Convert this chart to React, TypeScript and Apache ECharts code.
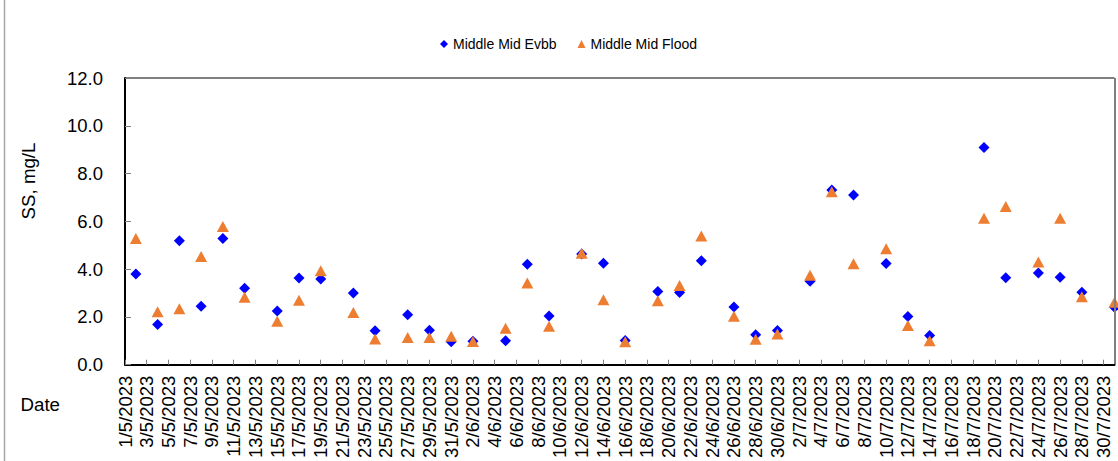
import React, { useEffect, useRef } from "react";
import * as echarts from "echarts";

// Axis categories: every day from 1/5/2023 to 31/7/2023
const monthDays: [number, number][] = [[5, 31], [6, 30], [7, 31]];
const dateCategories: string[] = [];
for (const [m, n] of monthDays) {
  for (let d = 1; d <= n; d++) dateCategories.push(`${d}/${m}/2023`);
}

const sampleDates = [
  "2/5/2023", "4/5/2023", "6/5/2023", "8/5/2023", "10/5/2023", "12/5/2023",
  "15/5/2023", "17/5/2023", "19/5/2023", "22/5/2023", "24/5/2023", "27/5/2023",
  "29/5/2023", "31/5/2023", "2/6/2023", "5/6/2023", "7/6/2023", "9/6/2023",
  "12/6/2023", "14/6/2023", "16/6/2023", "19/6/2023", "21/6/2023", "23/6/2023",
  "26/6/2023", "28/6/2023", "30/6/2023", "3/7/2023", "5/7/2023", "7/7/2023",
  "10/7/2023", "12/7/2023", "14/7/2023", "19/7/2023", "21/7/2023", "24/7/2023",
  "26/7/2023", "28/7/2023", "31/7/2023",
];

const ebbValues = [
  3.8, 1.68, 5.19, 2.45, 5.28, 3.2,
  2.25, 3.63, 3.59, 3.0, 1.42, 2.09,
  1.44, 0.96, 0.98, 1.0, 4.2, 2.04,
  4.63, 4.25, 1.01, 3.06, 3.02, 4.35,
  2.42, 1.25, 1.43, 3.49, 7.31, 7.1,
  4.24, 2.02, 1.22, 9.09, 3.64, 3.84,
  3.66, 3.03, 2.4,
];

const floodValues = [
  5.28, 2.22, 2.34, 4.53, 5.78, 2.82,
  1.82, 2.7, 3.93, 2.18, 1.08, 1.14,
  1.14, 1.19, 0.97, 1.53, 3.42, 1.61,
  4.67, 2.72, 0.96, 2.68, 3.31, 5.39,
  2.03, 1.07, 1.29, 3.74, 7.24, 4.23,
  4.85, 1.64, 1.0, 6.13, 6.62, 4.3,
  6.13, 2.84, 2.61,
];

const seriesNames = ["Middle Mid Evbb", "Middle Mid Flood"];
const yTicks = { min: 0, max: 12, interval: 2 };

const FONT = "'Liberation Sans', Arial, sans-serif";
const W = 1118;
const H = 461;
const G = { left: 125, right: 3.5, top: 78, bottom: 95.7 };
const FRAME = "#808080";

export default function App() {
  const ref = useRef<HTMLDivElement>(null);
  useEffect(() => {
    if (!ref.current) return;
    const chart = echarts.init(ref.current, null, { renderer: "svg" });
    chart.setOption({
      animation: false,
      backgroundColor: "#ffffff",
      textStyle: { fontFamily: FONT },
      grid: { ...G, show: false, containLabel: false },
      legend: {
        left: 435,
        top: 32,
        itemWidth: 8,
        itemHeight: 8,
        itemGap: 21,
        textStyle: { fontFamily: FONT, fontSize: 14, color: "#000" },
        data: [
          { name: seriesNames[0], icon: "diamond" },
          { name: seriesNames[1], icon: "triangle" },
        ],
      },
      xAxis: {
        type: "category",
        data: dateCategories,
        boundaryGap: false,
        z: 5,
        axisLine: { show: true, onZero: false, lineStyle: { color: "#000", width: 2 } },
        axisTick: { show: true, inside: true, length: 5, interval: 1, lineStyle: { color: FRAME, width: 1 } },
        axisLabel: {
          interval: 1,
          rotate: 90,
          margin: 11,
          color: "#000",
          fontFamily: FONT,
          fontSize: 18.5,
        },
        splitLine: { show: false },
      },
      yAxis: {
        type: "value",
        min: yTicks.min,
        max: yTicks.max,
        interval: yTicks.interval,
        z: 5,
        axisLine: { show: true, onZero: false, lineStyle: { color: "#000", width: 2 } },
        axisTick: { show: true, inside: true, length: 6, lineStyle: { color: FRAME, width: 1 } },
        axisLabel: {
          margin: 22,
          color: "#000",
          fontFamily: FONT,
          fontSize: 18.5,
          formatter: (v: number) => v.toFixed(1),
        },
        splitLine: { show: false },
      },
      graphic: [
        {
          type: "rect",
          shape: { x: 3.75, y: 0, width: 1.5, height: H },
          style: { fill: "#a6a6a6" },
          silent: true,
        },
        {
          type: "text",
          x: 28,
          y: 181,
          rotation: Math.PI / 2,
          style: {
            text: "SS, mg/L",
            fontFamily: FONT,
            fontSize: 18.7,
            fill: "#000",
            align: "center",
            verticalAlign: "middle",
          },
        },
        {
          type: "text",
          x: 20.5,
          y: 404,
          style: {
            text: "Date",
            fontFamily: FONT,
            fontSize: 18.7,
            fill: "#000",
            align: "left",
            verticalAlign: "middle",
          },
        },
      ],
      series: [
        {
          name: seriesNames[0],
          type: "scatter",
          symbol: "diamond",
          symbolSize: [11, 11],
          itemStyle: { color: "#0000ff", opacity: 1 },
          data: sampleDates.map((d, i) => [d, ebbValues[i]]),
          z: 2,
          markLine: {
            silent: true,
            symbol: ["none", "none"],
            label: { show: false },
            lineStyle: { color: FRAME, width: 2, type: "solid", opacity: 1 },
            emphasis: { disabled: true },
            data: [
              { yAxis: yTicks.max },
              { xAxis: dateCategories[dateCategories.length - 1] },
            ],
          },
        },
        {
          name: seriesNames[1],
          type: "scatter",
          symbol: "triangle",
          symbolSize: [12, 11],
          itemStyle: { color: "#ed7d31", opacity: 1 },
          data: sampleDates.map((d, i) => [d, floodValues[i]]),
          z: 3,
        },
      ],
    });
    return () => chart.dispose();
  }, []);
  return (
    <div
      ref={ref}
      style={{ position: "fixed", left: 0, top: 0, width: W, height: H }}
    />
  );
}
